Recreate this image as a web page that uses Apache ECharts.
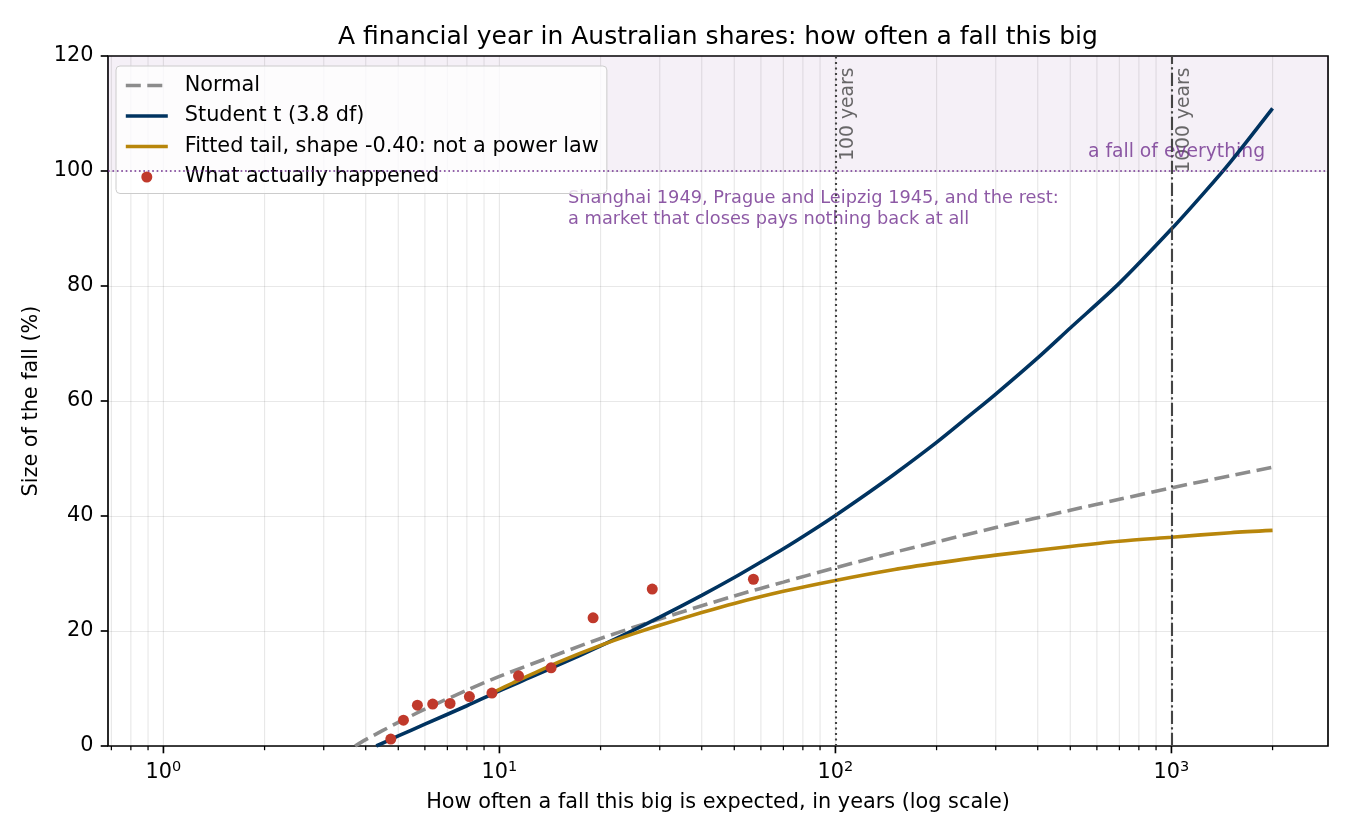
<!DOCTYPE html>
<html>
<head>
<meta charset="utf-8">
<title>A financial year in Australian shares: how often a fall this big</title>
<script src="https://cdn.jsdelivr.net/npm/echarts@6/dist/echarts.min.js"></script>
<style>
  html, body { margin: 0; padding: 0; background: #fff; }
  #chart { width: 1350px; height: 840px; }
</style>
</head>
<body>
<div id="chart"></div>
<script>
// return period in years -> size of the fall in %
var normalYears = [3.72, 4, 5, 6, 8, 10, 15, 20, 30, 50, 70, 100, 150, 200, 300, 500, 700, 1000, 1500, 2000];
var normalFall  = [0, 1.1, 4.1, 6.4, 9.7, 12.1, 16.0, 18.7, 22.1, 26.1, 28.5, 31.0, 33.7, 35.5, 38.0, 41.0, 42.9, 44.9, 47.0, 48.5];

var tYears = [4.3, 5, 6, 8, 10, 12.5, 15, 20, 25, 30, 40, 50, 60, 70, 85, 100, 125, 150, 200, 250, 300, 400, 500, 700, 1000, 1250, 1500, 2000];
var tFall  = [0, 1.75, 3.8, 7.0, 9.6, 12.05, 14.1, 17.4, 20.1, 22.4, 26.2, 29.3, 32.0, 34.3, 37.4, 40.1, 44.0, 47.3, 52.8, 57.4, 61.2, 67.5, 72.7, 80.5, 89.9, 96.2, 101.6, 110.9];

var tailYears = [9.5, 11, 12.5, 15, 20, 25, 30, 40, 50, 70, 100, 150, 200, 300, 500, 700, 1000, 1500, 2000];
var tailFall  = [9.2, 11.0, 12.5, 14.6, 17.5, 19.5, 21.0, 23.2, 24.8, 26.9, 28.8, 30.7, 31.8, 33.2, 34.7, 35.6, 36.3, 37.1, 37.5];

// the 57 years that actually happened, worst falls only
var seenYears = [4.75, 5.18, 5.7, 6.33, 7.13, 8.14, 9.5, 11.4, 14.25, 19, 28.5, 57];
var seenFall  = [1.2, 4.5, 7.1, 7.3, 7.4, 8.6, 9.2, 12.2, 13.6, 22.3, 27.3, 29.0];

var majorTicks = [1, 10, 100, 1000];
var minorTicks = [0.7, 0.8, 0.9, 2, 3, 4, 5, 6, 7, 8, 9, 20, 30, 40, 50, 60, 70, 80, 90,
                  200, 300, 400, 500, 600, 700, 800, 900, 2000];

var FONT = 'DejaVu Sans';
var PURPLE = '#70308f';
var GRID = 'rgba(0,0,0,0.09)';

function pairs(xs, ys) {
    return xs.map(function (x, i) { return [x, ys[i]]; });
}

// vertical grid line + tick for every decade and sub-decade
function renderTick(params, api) {
    var v = api.value(0);
    var major = api.value(1) === 1;
    var bottom = api.coord([v, 0]);
    var top = api.coord([v, 120]);
    return {
        type: 'group',
        children: [
            { type: 'line', silent: true,
              shape: { x1: bottom[0], y1: bottom[1], x2: top[0], y2: top[1] },
              style: { stroke: GRID, lineWidth: 1.2 } },
            { type: 'line', silent: true,
              shape: { x1: bottom[0], y1: bottom[1], x2: bottom[0], y2: bottom[1] + (major ? 7.3 : 4.2) },
              style: { stroke: '#000', lineWidth: major ? 1.67 : 1.25 } }
        ]
    };
}

var myChart = echarts.init(document.getElementById('chart'));

var noMarker = { opacity: 0 };

var option = {
    animation: false,
    textStyle: { fontFamily: FONT },
    title: {
        text: 'A financial year in Australian shares: how often a fall this big',
        left: 718, top: 25, textAlign: 'center', padding: 0,
        textStyle: { fontFamily: FONT, fontSize: 25, fontWeight: 'normal', color: '#000' }
    },
    legend: {
        orient: 'vertical', left: 116, top: 66,
        padding: [9, 8, 6, 8],
        itemWidth: 42, itemHeight: 11, itemGap: 9.5,
        backgroundColor: 'rgba(255,255,255,0.8)',
        borderColor: '#cccccc', borderWidth: 1, borderRadius: 4,
        lineStyle: { width: 3.6 },
        textStyle: { fontFamily: FONT, fontSize: 20.8, color: '#000', padding: [0, 0, 0, 12] },
        data: [
            { name: 'Normal', itemStyle: noMarker },
            { name: 'Student t (3.8 df)', itemStyle: noMarker },
            { name: 'Fitted tail, shape -0.40: not a power law', itemStyle: noMarker },
            { name: 'What actually happened', icon: 'circle' }
        ]
    },
    grid: {
        left: 108, right: 22, top: 56, bottom: 94,
        show: true, borderColor: '#000', borderWidth: 1.67
    },
    xAxis: {
        type: 'log', logBase: 10, min: 0.684, max: 2924,
        name: 'How often a fall this big is expected, in years (log scale)',
        nameLocation: 'middle', nameGap: 46,
        nameTextStyle: { fontFamily: FONT, fontSize: 20.8, color: '#000' },
        axisLine: { show: false },
        axisTick: { show: false },
        splitLine: { show: false },
        axisLabel: {
            margin: 14,
            showMinLabel: false, showMaxLabel: false,
            formatter: function (v) {
                var e = Math.round(Math.log10(v));
                if (Math.abs(Math.log10(v) - e) > 1e-6) return '';
                return '{b|10}{e|' + e + '}';
            },
            rich: {
                b: { fontFamily: FONT, fontSize: 20.8, color: '#000' },
                e: { fontFamily: FONT, fontSize: 14.5, color: '#000', padding: [0, 0, 10, 0] }
            }
        }
    },
    yAxis: {
        type: 'value', min: 0, max: 120, interval: 20,
        name: 'Size of the fall (%)',
        nameLocation: 'middle', nameGap: 66,
        nameTextStyle: { fontFamily: FONT, fontSize: 20.8, color: '#000' },
        axisLine: { show: false },
        axisTick: { show: true, length: 7.3, lineStyle: { color: '#000', width: 1.67 } },
        axisLabel: { fontFamily: FONT, fontSize: 20.8, color: '#000', margin: 14.6 },
        splitLine: { lineStyle: { color: GRID, width: 1.2 } }
    },
    series: [
        {
            name: 'ticks',
            type: 'custom',
            silent: true,
            z: 1,
            renderItem: renderTick,
            data: majorTicks.map(function (v) { return [v, 1]; })
                .concat(minorTicks.map(function (v) { return [v, 0]; }))
        },
        {
            name: 'notes',
            type: 'scatter',
            silent: true,
            symbolSize: 0,
            z: 2,
            data: [
                { value: [100, 118], label: { show: true, formatter: '100 years', rotate: 90,
                    position: [3, 0], align: 'right', verticalAlign: 'top',
                    fontFamily: FONT, fontSize: 18.75, color: '#444' } },
                { value: [1000, 118], label: { show: true, formatter: '1000 years', rotate: 90,
                    position: [3, 0], align: 'right', verticalAlign: 'top',
                    fontFamily: FONT, fontSize: 18.75, color: '#444' } },
                { value: [1900, 103.3], label: { show: true, formatter: 'a fall of everything',
                    position: [0, 0], align: 'right', verticalAlign: 'middle',
                    fontFamily: FONT, fontSize: 18.75, color: PURPLE } },
                { value: [16, 97], label: { show: true,
                    formatter: 'Shanghai 1949, Prague and Leipzig 1945, and the rest:\na market that closes pays nothing back at all',
                    position: [0, 0], align: 'left', verticalAlign: 'top', lineHeight: 20.5,
                    fontFamily: FONT, fontSize: 17.8, color: PURPLE } }
            ],
            markArea: {
                silent: true,
                itemStyle: { color: 'rgba(123,63,158,0.08)' },
                data: [[{ yAxis: 100 }, { yAxis: 120 }]]
            },
            markLine: {
                silent: true,
                symbol: ['none', 'none'],
                label: { show: false },
                data: [
                    { xAxis: 100, lineStyle: { color: '#444', width: 2.1, type: [2.1, 3.4] } },
                    { xAxis: 1000, lineStyle: { color: '#444', width: 2.1, type: [13.3, 3.3, 2.1, 3.3] } },
                    { yAxis: 100, lineStyle: { color: PURPLE, width: 1.67, type: [1.67, 2.75] } }
                ]
            }
        },
        {
            name: 'Normal',
            type: 'line',
            data: pairs(normalYears, normalFall),
            showSymbol: false, symbol: 'none', smooth: 0.3,
            lineStyle: { color: '#8c8c8c', width: 3.6, type: [15, 6.5] },
            itemStyle: { color: '#8c8c8c' }
        },
        {
            name: 'Student t (3.8 df)',
            type: 'line',
            data: pairs(tYears, tFall),
            showSymbol: false, symbol: 'none', smooth: 0.3,
            lineStyle: { color: '#003360', width: 3.6 },
            itemStyle: { color: '#003360' }
        },
        {
            name: 'Fitted tail, shape -0.40: not a power law',
            type: 'line',
            data: pairs(tailYears, tailFall),
            showSymbol: false, symbol: 'none', smooth: 0.3,
            lineStyle: { color: '#b8860b', width: 3.6 },
            itemStyle: { color: '#b8860b' }
        },
        {
            name: 'What actually happened',
            type: 'scatter',
            data: pairs(seenYears, seenFall),
            symbolSize: 11,
            itemStyle: { color: '#c0392b', opacity: 1 },
            z: 3
        }
    ]
};

myChart.setOption(option);
</script>
</body>
</html>
